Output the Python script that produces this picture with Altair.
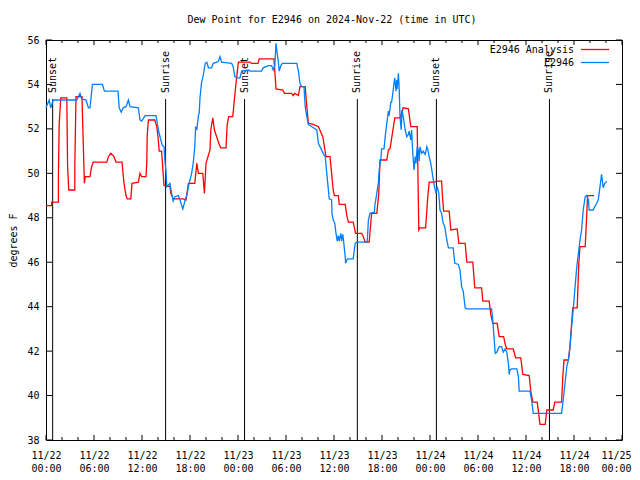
import altair as alt
import pandas as pd

TITLE = "Dew Point for E2946 on 2024-Nov-22 (time in UTC)"
Y_TITLE = "degrees F"
START = "2024-11-22T00:00:00Z"
MONO = "DejaVu Sans Mono"

y_ticks = [38, 40, 42, 44, 46, 48, 50, 52, 54, 56]
x_major_hours = [0, 6, 12, 18, 24, 30, 36, 42, 48, 54, 60, 66, 72]
x_minor_hours = [2, 4, 8, 10, 14, 16, 20, 22, 26, 28, 32, 34, 38, 40, 44, 46, 50, 52, 56, 58, 62, 64, 68, 70]

sun_times = ["2024-11-22T00:50:00Z", "2024-11-22T14:57:00Z", "2024-11-23T00:49:00Z",
             "2024-11-23T14:55:00Z", "2024-11-24T00:48:00Z", "2024-11-24T14:56:00Z"]
sun_labels = ["Sunset", "Sunrise", "Sunset", "Sunrise", "Sunset", "Sunrise"]

series_names = ["E2946 Analysis", "E2946"]
series_colors = ["#ff0000", "#0080ff"]

# (hours since 2024-11-22 00:00 UTC, dew point F)
red = [(0.0,48.55),(0.7,48.55),(0.7,48.7),(1.55,48.7),(1.55,49.9),(1.65,52.25),(1.85,53.4),(2.6,53.4),(2.7,50.3),(2.85,49.25),(3.6,49.25),(3.6,50.3),(3.75,53.45),(4.5,53.45),(4.6,52.1),(4.8,49.55),(4.9,49.85),(5.5,49.85),(5.7,50.3),(5.9,50.5),(7.6,50.5),(7.8,50.75),(8.1,50.9),(8.5,50.75),(8.75,50.5),(9.5,50.5),(9.75,49.55),(10.0,49.0),(10.15,48.85),(10.6,48.85),(10.75,49.55),(11.55,49.6),(11.75,50.0),(11.95,49.85),(12.5,49.85),(12.6,50.5),(12.65,51.7),(12.8,52.4),(13.6,52.4),(13.85,52.1),(14.0,51.65),(14.15,51.0),(14.45,51.0),(14.75,49.45),(15.5,49.4),(15.6,49.1),(15.9,48.85),(17.15,48.85),(17.5,48.8),(17.8,49.55),(18.6,49.55),(18.85,50.45),(19.05,50.0),(19.6,50.0),(19.8,49.1),(20.0,50.45),(20.5,51.05),(20.6,51.95),(20.85,52.5),(21.05,51.95),(21.65,51.3),(21.85,51.15),(22.5,51.15),(22.65,52.2),(22.85,52.55),(23.35,52.55),(23.5,53.15),(23.75,54.05),(24.05,55.0),(25.5,55.0),(25.7,54.95),(26.5,54.95),(26.65,55.15),(28.5,55.15),(28.75,53.8),(29.6,53.75),(29.8,53.6),(30.7,53.6),(30.9,53.5),(31.1,53.6),(31.55,53.5),(31.75,53.9),(32.4,53.9),(32.6,53.0),(32.8,52.25),(33.4,52.2),(34.05,52.1),(34.6,51.65),(35.0,50.75),(35.5,50.75),(35.7,50.0),(35.9,49.25),(36.05,49.0),(36.55,49.0),(36.65,48.6),(37.4,48.6),(37.6,48.1),(37.8,47.8),(38.4,47.8),(38.7,47.3),(39.45,47.3),(39.6,47.2),(39.9,46.9),(40.4,46.9),(40.5,47.35),(40.7,48.2),(41.35,48.2),(41.6,49.1),(41.75,50.6),(42.6,50.6),(42.8,51.05),(43.0,51.1),(43.6,52.5),(44.25,52.5),(44.65,52.95),(45.3,52.9),(45.6,52.1),(46.4,52.1),(46.6,47.45),(46.75,47.55),(47.45,47.55),(47.6,48.3),(47.7,48.85),(47.9,49.6),(48.5,49.6),(48.85,49.65),(49.45,49.65),(49.55,49.0),(49.7,48.3),(50.4,48.3),(50.6,47.45),(51.4,47.5),(51.6,46.85),(52.4,46.85),(52.6,46.0),(53.35,46.0),(53.6,44.85),(54.45,44.85),(54.6,44.25),(55.4,44.25),(55.6,43.65),(55.85,43.25),(56.4,43.25),(56.65,42.65),(57.2,42.65),(57.4,42.3),(57.6,42.1),(58.4,42.1),(58.7,41.7),(59.35,41.7),(59.6,40.95),(60.4,40.9),(60.6,40.2),(60.85,39.7),(61.4,39.7),(61.6,39.15),(61.75,38.7),(62.4,38.7),(62.6,39.35),(63.4,39.35),(63.6,39.7),(64.45,39.7),(64.6,40.85),(64.75,41.6),(65.3,41.6),(65.5,42.2),(65.7,43.25),(65.85,43.95),(66.4,43.95),(66.6,45.95),(66.75,46.7),(67.4,46.7),(67.6,48.2),(67.7,49.0),(68.5,49.0)]

blue = [(0.0,52.95),(0.4,53.3),(0.6,52.95),(0.9,53.3),(3.85,53.3),(4.25,53.6),(4.45,53.35),(5.0,53.3),(5.3,52.95),(5.5,52.95),(5.8,54.0),(7.05,54.0),(7.3,53.7),(9.0,53.7),(9.15,52.95),(9.4,52.75),(9.65,52.95),(10.0,53.0),(10.3,53.3),(10.5,53.0),(11.55,52.95),(11.75,52.4),(11.95,52.35),(12.4,52.6),(13.75,52.6),(13.85,52.4),(14.05,51.95),(14.35,51.5),(14.55,51.25),(14.75,51.2),(14.9,50.4),(15.0,50.1),(15.1,49.4),(15.5,49.55),(15.7,49.1),(15.9,48.75),(16.1,48.95),(16.55,49.0),(16.75,48.8),(17.1,48.4),(17.4,48.8),(17.6,49.0),(17.8,49.4),(18.2,50.0),(18.4,50.45),(18.6,51.2),(18.7,52.1),(18.85,51.95),(19.05,52.6),(19.15,52.7),(19.25,53.4),(19.45,54.1),(19.65,54.4),(19.9,54.95),(20.1,55.0),(20.3,54.75),(20.7,54.75),(20.9,54.95),(21.35,55.0),(21.55,55.05),(21.75,55.25),(21.95,55.0),(23.2,54.95),(23.4,54.8),(23.6,54.35),(23.85,54.3),(24.25,54.3),(24.45,54.6),(25.3,54.65),(25.5,54.6),(26.95,54.6),(27.15,54.75),(27.8,54.85),(28.2,54.85),(28.4,54.65),(28.6,54.85),(28.75,55.85),(28.85,55.55),(29.05,55.0),(29.15,54.6),(29.35,54.85),(29.55,54.95),(31.35,54.95),(31.55,54.6),(31.75,54.05),(31.95,53.9),(32.25,53.9),(32.4,53.0),(32.6,52.55),(32.8,52.2),(33.85,51.95),(34.05,51.35),(34.65,50.9),(34.9,50.75),(35.1,50.0),(35.3,49.25),(35.4,48.85),(35.7,48.8),(35.75,48.2),(35.9,47.9),(36.1,47.75),(36.25,47.3),(36.4,46.95),(36.55,47.2),(36.65,46.95),(36.85,47.3),(36.95,46.95),(37.1,47.25),(37.2,46.95),(37.4,46.25),(37.45,45.95),(37.6,46.1),(37.7,46.15),(38.4,46.15),(38.5,46.45),(38.65,46.85),(38.85,46.9),(40.15,46.9),(40.3,47.9),(40.5,48.2),(41.05,48.25),(41.1,48.55),(41.35,49.1),(41.55,49.6),(41.65,50.15),(41.85,50.6),(41.95,51.1),(42.25,51.1),(42.4,51.65),(42.6,52.25),(42.8,52.8),(42.9,52.6),(43.1,53.2),(43.2,53.2),(43.35,53.6),(43.5,54.05),(43.6,54.3),(43.75,53.7),(43.85,54.2),(43.9,53.8),(44.05,54.5),(44.15,53.8),(44.25,52.55),(44.4,51.95),(44.5,52.85),(44.65,52.55),(44.9,51.95),(45.0,51.8),(45.1,51.65),(45.3,51.75),(45.4,51.9),(45.6,51.5),(45.7,51.95),(45.85,50.9),(46.0,50.15),(46.15,50.75),(46.25,50.45),(46.4,51.2),(46.55,51.05),(46.65,50.55),(46.75,51.2),(46.95,50.9),(47.15,51.0),(47.4,50.85),(47.6,51.2),(47.7,51.1),(47.9,50.75),(48.1,50.45),(48.35,49.85),(48.55,49.4),(48.75,49.1),(48.9,49.4),(49.1,49.1),(49.25,48.35),(49.45,48.2),(49.65,47.75),(49.85,47.6),(50.1,47.0),(50.3,46.65),(50.9,46.65),(51.1,45.95),(51.55,45.9),(51.75,45.65),(51.95,44.9),(52.15,44.7),(52.4,43.95),(52.6,43.9),(55.7,43.9),(55.85,43.4),(56.0,42.65),(56.15,41.9),(56.35,41.95),(56.65,42.2),(56.95,42.2),(57.15,41.95),(57.4,42.1),(57.6,41.95),(57.8,41.45),(57.9,40.95),(58.0,41.15),(58.2,41.2),(58.85,41.2),(59.05,40.85),(59.15,40.2),(60.5,40.2),(60.7,39.8),(60.9,39.2),(64.45,39.2),(64.65,39.8),(65.1,41.3),(65.3,41.6),(65.5,42.2),(65.7,43.1),(65.9,43.85),(66.1,44.75),(66.35,45.8),(66.55,46.4),(66.75,47.0),(66.95,47.45),(67.15,48.35),(67.4,48.95),(67.6,49.0),(67.8,48.8),(67.9,48.35),(68.4,48.35),(68.6,48.5),(68.85,48.65),(69.05,48.85),(69.25,49.4),(69.45,49.95),(69.65,49.35),(69.85,49.55),(70.1,49.65)]

base = pd.Timestamp(START)


def iso(h):
    return (base + pd.Timedelta(hours=h)).strftime("%Y-%m-%dT%H:%M:%SZ")


def dt(h):
    ts = base + pd.Timedelta(hours=h)
    return alt.DateTime(year=ts.year, month=ts.month, date=ts.day, hours=ts.hour, utc=True)


red_df = pd.DataFrame({"t": [iso(h) for h, _ in red], "v": [v for _, v in red]})
blue_df = pd.DataFrame({"t": [iso(h) for h, _ in blue], "v": [v for _, v in blue]})
sun_df = pd.DataFrame({"t": sun_times, "label": sun_labels})
major_df = pd.DataFrame({"t": [iso(h) for h in x_major_hours]})
minor_df = pd.DataFrame({"t": [iso(h) for h in x_minor_hours]})
ytick_df = pd.DataFrame({"v": y_ticks})

x_axis = alt.Axis(
    values=[dt(h) for h in x_major_hours],
    labelExpr="[utcFormat(datum.value, '%m/%d'), utcFormat(datum.value, '%H:%M')]",
    ticks=False, domain=False, grid=False, labelAngle=0,
    labelPadding=10, labelBaseline="top", labelLineHeight=13,
    labelFlush=False, labelOverlap=False,
    labelOffset={"condition": {"test": "utcFormat(datum.value, '%d %H') == '25 00'", "value": -6},
                 "value": 0},
    labelFont=MONO, labelFontSize=10, labelColor="black",
)
y_axis = alt.Axis(
    values=y_ticks, ticks=False, domain=False, grid=False,
    labelPadding=7, labelFont=MONO, labelFontSize=10, labelColor="black",
    title=Y_TITLE, titleX=-33, titleY=200, titleAngle=270,
    titleAlign="center", titleBaseline="middle",
    titleFont=MONO, titleFontSize=10, titleFontWeight="normal", titleColor="black",
)

x_enc = alt.X("t:T", title=None, axis=x_axis,
              scale=alt.Scale(type="utc", domain=[dt(0), dt(72)]))
y_enc = alt.Y("v:Q", title=Y_TITLE, axis=y_axis,
              scale=alt.Scale(domain=[38, 56], nice=False, zero=False))

layers = []
# tick marks (inward, on all four sides)
for yv0, yv1, df in [(400, 395, major_df), (0, 5, major_df), (400, 397, minor_df), (0, 3, minor_df)]:
    layers.append(alt.Chart(df).mark_rule(color="black", strokeWidth=1)
                  .encode(x=x_enc, y=alt.value(yv0), y2=alt.value(yv1)))
for xv0, xv1 in [(0, 6), (576, 570)]:
    layers.append(alt.Chart(ytick_df).mark_rule(color="black", strokeWidth=1)
                  .encode(y=y_enc, x=alt.value(xv0), x2=alt.value(xv1)))

# sunrise / sunset markers
layers.append(alt.Chart(sun_df).mark_rule(color="black", strokeWidth=1)
              .encode(x=x_enc, y=alt.value(59), y2=alt.value(400)))
layers.append(alt.Chart(sun_df).mark_text(angle=270, align="left", baseline="middle",
                                          font=MONO, fontSize=10, color="black")
              .encode(x=x_enc, y=alt.value(53), text="label:N"))

# data series
layers.append(alt.Chart(red_df).mark_line(color=series_colors[0], strokeWidth=1.3)
              .encode(x=x_enc, y=y_enc, order="t:T"))
layers.append(alt.Chart(blue_df).mark_line(color=series_colors[1], strokeWidth=1.3)
              .encode(x=x_enc, y=y_enc, order="t:T"))

# key (label left of sample line, as in gnuplot)
for i, (name, col) in enumerate(zip(series_names, series_colors)):
    yy = 9.5 + 13 * i
    ldf = pd.DataFrame({"label": [name]})
    layers.append(alt.Chart(ldf).mark_text(align="right", baseline="middle", font=MONO,
                                           fontSize=10, color="black")
                  .encode(text="label:N", x=alt.value(528), y=alt.value(yy)))
    layers.append(alt.Chart(ldf).mark_rule(color=col, strokeWidth=1.3)
                  .encode(x=alt.value(535), x2=alt.value(563), y=alt.value(yy)))

# chart title
title_df = pd.DataFrame({"label": [TITLE]})
layers.append(alt.Chart(title_df).mark_text(align="center", baseline="middle", font=MONO,
                                            fontSize=10, color="black")
              .encode(text="label:N", x=alt.value(286), y=alt.value(-20)))

chart = alt.layer(*layers).properties(
    width=576, height=400,
    autosize=alt.AutoSizeParams(type="none"),
    padding={"left": 38, "top": 32, "right": 10, "bottom": 32},
    background="white",
).configure_view(stroke="black", strokeWidth=1)

chart.save("out.html", embed_options={"renderer": "svg", "actions": False})
